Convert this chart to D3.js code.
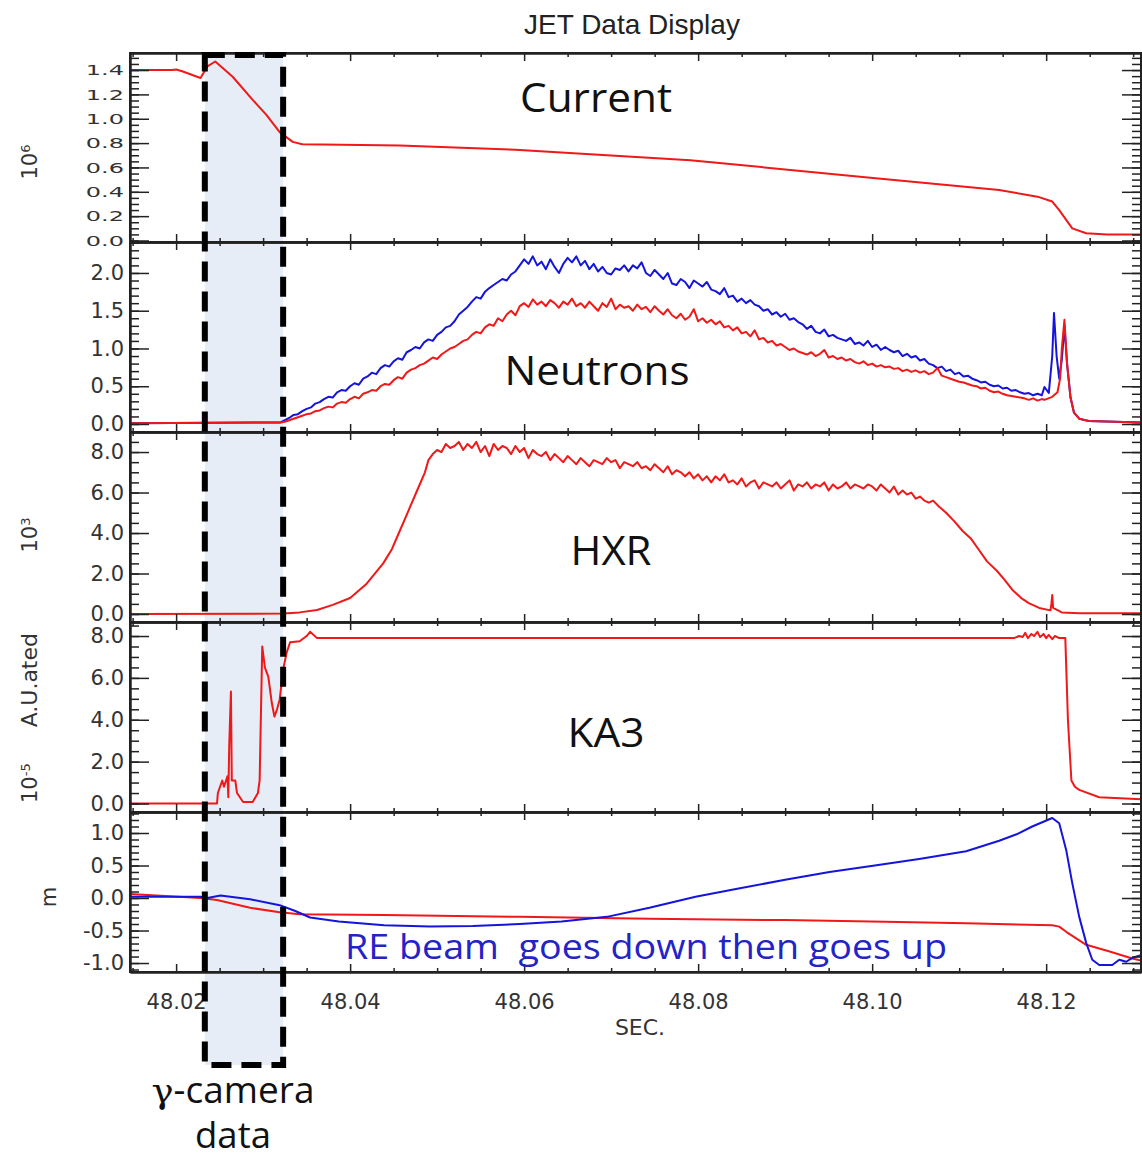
<!DOCTYPE html>
<html>
<head>
<meta charset="utf-8">
<script src="https://cdn.jsdelivr.net/npm/d3@7"></script>
<style>
body { margin: 0; background: #fff; }
svg { display: block; }
</style>
</head>
<body>
<div id="chart"></div>
<script>
// time axis, seconds
var xDomain = [48.0147, 48.1309];
var xMajorTicks = [48.02, 48.04, 48.06, 48.08, 48.10, 48.12];

// plasma current, 10^6 A, [t, value]
var currentData = [[48.0147,1.40],[48.0195,1.40],[48.0200,1.405],[48.0207,1.39],[48.0228,1.335],[48.0236,1.43],[48.0245,1.47],
  [48.0265,1.345],[48.0288,1.155],[48.0304,1.03],[48.0319,0.89],[48.0334,0.81],[48.0345,0.79],[48.0457,0.78],[48.0590,0.745],
  [48.0791,0.66],[48.0992,0.52],[48.1146,0.415],[48.1190,0.36],[48.1207,0.32],[48.1215,0.25],[48.1223,0.17],[48.1230,0.10],
  [48.1246,0.06],[48.1270,0.05],[48.1309,0.05]];

// neutron rates, sampled every 0.5 ms from 48.032 s, then the two end spikes as [t, value]
var neutronT0 = 48.032, neutronDt = 0.0005;
var neutronBlueSamples = [
  0.02,0.05,0.08,0.12,0.13,0.17,0.20,0.22,0.27,0.29, 0.33,0.36,0.35,0.42,0.45,0.44,0.50,0.54,0.52,0.60,
  0.63,0.68,0.66,0.74,0.78,0.76,0.83,0.87,0.85,0.95, 0.98,1.02,1.00,1.08,1.12,1.10,1.18,1.22,1.28,1.30,
  1.36,1.45,1.50,1.55,1.62,1.68,1.66,1.75,1.80,1.84, 1.88,1.92,1.90,1.98,2.02,2.10,2.18,2.12,2.22,2.10,
  2.15,2.05,2.18,2.08,2.00,2.12,2.20,2.14,2.22,2.10, 2.16,2.05,2.12,2.02,2.08,2.00,1.98,2.06,2.04,2.10,
  2.02,2.10,2.06,2.14,2.00,1.96,2.04,1.98,1.92,2.00, 1.86,1.84,1.92,1.88,1.80,1.90,1.86,1.82,1.88,1.78,
  1.76,1.72,1.80,1.68,1.70,1.62,1.66,1.60,1.64,1.58, 1.56,1.50,1.52,1.45,1.48,1.42,1.46,1.38,1.40,1.35,
  1.32,1.26,1.30,1.22,1.20,1.25,1.16,1.18,1.14,1.12, 1.10,1.14,1.06,1.08,1.04,1.10,1.02,1.05,0.98,1.02,
  0.98,0.95,0.97,0.90,0.93,0.88,0.90,0.84,0.86,0.80, 0.78,0.74,0.76,0.70,0.72,0.66,0.68,0.63,0.64,0.60,
  0.58,0.55,0.56,0.52,0.50,0.51,0.47,0.48,0.44,0.45, 0.42,0.40,0.41,0.38,0.40,0.38];
var neutronRedSamples = [
  0.02,0.03,0.05,0.07,0.09,0.11,0.13,0.14,0.17,0.18, 0.21,0.23,0.22,0.27,0.29,0.28,0.33,0.36,0.34,0.40,
  0.42,0.45,0.44,0.50,0.53,0.52,0.58,0.62,0.60,0.68, 0.72,0.74,0.78,0.80,0.84,0.88,0.86,0.92,0.96,1.00,
  1.02,1.06,1.10,1.12,1.18,1.22,1.20,1.28,1.32,1.30, 1.40,1.36,1.45,1.50,1.44,1.56,1.60,1.55,1.65,1.58,
  1.62,1.56,1.64,1.60,1.54,1.62,1.58,1.66,1.56,1.60, 1.54,1.62,1.56,1.50,1.60,1.55,1.66,1.52,1.58,1.54,
  1.56,1.50,1.58,1.52,1.55,1.48,1.56,1.50,1.45,1.52, 1.44,1.40,1.46,1.38,1.42,1.52,1.36,1.40,1.34,1.38,
  1.32,1.36,1.28,1.30,1.24,1.28,1.20,1.22,1.16,1.24, 1.12,1.14,1.08,1.10,1.04,1.06,1.02,0.98,1.00,0.96,
  0.94,0.92,0.95,0.90,0.93,0.98,0.88,0.90,0.86,0.88, 0.84,0.86,0.82,0.80,0.83,0.78,0.80,0.76,0.78,0.75,
  0.76,0.73,0.74,0.70,0.72,0.69,0.71,0.68,0.70,0.66, 0.68,0.74,0.64,0.62,0.60,0.58,0.56,0.55,0.53,0.51,
  0.50,0.47,0.48,0.44,0.42,0.43,0.40,0.38,0.37,0.36, 0.35,0.34,0.32,0.34,0.31,0.33];
var neutronBlueTail = [[48.1198,0.49],[48.1203,0.41],[48.1207,0.90],[48.1209,1.47],[48.1212,0.90],[48.1215,0.60],[48.1218,0.85],
  [48.1221,1.30],[48.1224,0.80],[48.1228,0.35],[48.1232,0.15],[48.1238,0.07],[48.1249,0.04],[48.1309,0.02]];
var neutronRedTail = [[48.1198,0.32],[48.1207,0.36],[48.1213,0.42],[48.1216,0.60],[48.1218,1.00],[48.1221,1.38],[48.1224,0.80],
  [48.1228,0.35],[48.1232,0.15],[48.1238,0.07],[48.1249,0.04],[48.1309,0.02]];

// hard X-ray, 10^3: rise [t, value], plateau sampled every 0.5 ms from 48.049 s, then the fall
var hxrRise = [[48.0147,0.0],[48.0323,0.02],[48.0342,0.08],[48.0362,0.2],[48.0380,0.45],[48.0400,0.79],[48.0419,1.5],
  [48.0438,2.5],[48.0448,3.2],[48.0457,4.1],[48.0466,5.0],[48.0477,6.1],[48.0486,7.0]];
var hxrT0 = 48.049, hxrDt = 0.0005;
var hxrSamples = [
  7.6,7.9,8.1,8.0,8.4,8.2,8.3,8.5,8.1,8.4, 8.2,8.5,8.0,8.3,7.8,8.4,8.1,8.3,8.2,7.9,
  8.3,8.0,8.2,7.7,8.1,7.9,7.8,8.0,7.6,7.9, 7.7,7.5,7.8,7.6,7.4,7.7,7.5,7.3,7.6,7.5,
  7.4,7.7,7.5,7.6,7.2,7.5,7.4,7.3,7.5,7.2, 7.3,7.1,7.4,7.2,7.0,7.3,6.9,7.1,7.0,6.8,
  7.0,6.7,6.9,6.6,6.8,6.5,6.8,6.6,6.9,6.5, 6.6,6.4,6.7,6.3,6.5,6.6,6.2,6.5,6.4,6.3,
  6.5,6.2,6.4,6.6,6.1,6.4,6.3,6.5,6.2,6.4, 6.3,6.5,6.1,6.4,6.2,6.3,6.5,6.2,6.4,6.3,
  6.2,6.4,6.3,6.1,6.4,6.2,6.0,6.3,5.9,6.1, 5.9,6.0,5.7,5.8,5.6,5.5,5.6];
var hxrFall = [[48.1077,5.3],[48.1085,5.0],[48.1094,4.6],[48.1104,4.1],[48.1114,3.7],[48.1123,3.15],[48.1132,2.6],
  [48.1143,2.15],[48.1152,1.7],[48.1161,1.2],[48.1171,0.8],[48.1180,0.54],[48.1192,0.3],[48.1205,0.18],[48.1206,0.5],
  [48.1207,0.94],[48.1208,0.3],[48.1218,0.08],[48.1238,0.04],[48.1309,0.04]];

// KA3, 10^-5 A.U., [t, value]
var ka3Data = [[48.0147,0.0],[48.0247,0.0],[48.0248,0.5],[48.0253,1.1],[48.0255,0.8],[48.0259,1.3],[48.0260,0.3],
  [48.0261,2.7],[48.0263,5.35],[48.0264,1.1],[48.0268,1.1],[48.0270,0.5],[48.0277,0.07],[48.0288,0.07],[48.0294,0.5],
  [48.0296,1.1],[48.0299,7.5],[48.0302,6.5],[48.0306,6.05],[48.0310,4.8],[48.0313,4.15],[48.0316,4.5],[48.0319,4.95],
  [48.0323,6.4],[48.0327,7.2],[48.0331,7.7],[48.0342,7.75],[48.0350,8.0],[48.0354,8.2],[48.0362,7.9],[48.1163,7.9],
  [48.1169,8.0],[48.1173,7.95],[48.1176,8.15],[48.1179,7.9],[48.1183,8.1],[48.1186,8.0],[48.1190,8.2],[48.1193,7.95],
  [48.1197,8.1],[48.1200,7.9],[48.1203,8.05],[48.1207,7.85],[48.1210,8.0],[48.1215,7.9],[48.1222,7.9],[48.1225,4.0],
  [48.1229,1.1],[48.1233,0.8],[48.1238,0.65],[48.1261,0.3],[48.1309,0.2]];

// vertical position, m, [t, value]
var posRed = [[48.0147,0.06],[48.0228,0.0],[48.0247,-0.03],[48.0285,-0.15],[48.0319,-0.22],[48.0342,-0.25],[48.0439,-0.26],
  [48.0595,-0.29],[48.0744,-0.32],[48.0900,-0.34],[48.1031,-0.37],[48.1108,-0.39],[48.1207,-0.42],[48.1215,-0.44],
  [48.1223,-0.52],[48.1246,-0.72],[48.1272,-0.82],[48.1299,-0.93],[48.1309,-0.96]];
var posBlue = [[48.0147,0.02],[48.0228,0.02],[48.0236,0.0],[48.0251,0.04],[48.0285,-0.02],[48.0319,-0.11],[48.0337,-0.20],
  [48.0354,-0.30],[48.0387,-0.36],[48.0439,-0.42],[48.0492,-0.44],[48.0541,-0.43],[48.0595,-0.40],[48.0643,-0.36],
  [48.0695,-0.29],[48.0744,-0.15],[48.0797,0.02],[48.0848,0.15],[48.0900,0.28],[48.0951,0.40],[48.1003,0.50],
  [48.1054,0.60],[48.1108,0.72],[48.1146,0.88],[48.1166,0.98],[48.1184,1.10],[48.1207,1.23],[48.1215,1.15],
  [48.1223,0.74],[48.1230,0.23],[48.1238,-0.29],[48.1246,-0.69],[48.1253,-0.95],[48.1261,-1.03],[48.1276,-1.03],
  [48.1284,-0.95],[48.1292,-0.98],[48.1299,-0.92],[48.1309,-0.88]];

var panelNames = ["Current", "Neutrons", "HXR", "KA3"];
var cameraWindow = [48.0233, 48.0323];

var RED = "#f01818", BLUE = "#1414dc", INK = "#222";

function sampled(t0, dt, vals) {
  return vals.map(function(v, i) { return [t0 + i * dt, v]; });
}

var width = 1142, height = 1158;
var svg = d3.select("#chart").append("svg").attr("width", width).attr("height", height);

var x = d3.scaleLinear().domain(xDomain).range([130, 1141]);

var panels = [
  { top: 53, bottom: 242, domain: [-0.0123, 1.54], major: [0,0.2,0.4,0.6,0.8,1.0,1.2,1.4], minor: 0.05, squash: 0.62, fs: 24,
    series: [{ data: currentData, color: RED }] },
  { top: 242, bottom: 432, domain: [-0.106, 2.41], major: [0,0.5,1.0,1.5,2.0], minor: 0.1, squash: 1, fs: 21,
    series: [{ data: [[48.0147,0.01]].concat(sampled(neutronT0, neutronDt, neutronBlueSamples), neutronBlueTail), color: BLUE },
             { data: [[48.0147,0.01]].concat(sampled(neutronT0, neutronDt, neutronRedSamples), neutronRedTail), color: RED }] },
  { top: 432, bottom: 622, domain: [-0.395, 8.99], major: [0,2,4,6,8], minor: 0.5, squash: 1, fs: 21,
    series: [{ data: hxrRise.concat(sampled(hxrT0, hxrDt, hxrSamples), hxrFall), color: RED }] },
  { top: 622, bottom: 812, domain: [-0.406, 8.67], major: [0,2,4,6,8], minor: 0.5, squash: 1, fs: 21,
    series: [{ data: ka3Data, color: RED }] },
  { top: 812, bottom: 972, domain: [-1.138, 1.323], major: [-1.0,-0.5,0,0.5,1.0], minor: 0.1, squash: 1, fs: 21,
    series: [{ data: posRed, color: RED }, { data: posBlue, color: BLUE }] }
];

// gamma-camera window shading (behind everything)
svg.append("rect")
  .attr("x", x(cameraWindow[0])).attr("y", 55)
  .attr("width", x(cameraWindow[1]) - x(cameraWindow[0])).attr("height", 1010)
  .attr("fill", "#e6edf7");

var xMinor = d3.range(48.015, 48.131, 0.005).filter(function(t) {
  return xMajorTicks.every(function(m) { return Math.abs(m - t) > 1e-6; });
});

panels.forEach(function(p, k) {
  var y = d3.scaleLinear().domain(p.domain).range([p.bottom, p.top]);
  var g = svg.append("g");

  g.append("clipPath").attr("id", "clip" + k).append("rect")
    .attr("x", 130).attr("y", p.top).attr("width", 1011).attr("height", p.bottom - p.top);

  var line = d3.line().x(function(d) { return x(d[0]); }).y(function(d) { return y(d[1]); });
  p.series.forEach(function(s) {
    g.append("path").datum(s.data).attr("clip-path", "url(#clip" + k + ")")
      .attr("fill", "none").attr("stroke", s.color).attr("stroke-width", 2)
      .attr("stroke-linejoin", "round").attr("d", line);
  });

  var yMinor = d3.range(Math.ceil(p.domain[0] / p.minor) * p.minor, p.domain[1], p.minor);

  // left axis: inward ticks
  var left = g.append("g").attr("transform", "translate(130,0)");
  left.append("g").call(d3.axisLeft(y).tickValues(yMinor).tickSizeInner(-9).tickSizeOuter(0).tickFormat(""));
  left.append("g").call(d3.axisLeft(y).tickValues(p.major).tickSizeInner(-19).tickSizeOuter(0).tickPadding(6)
    .tickFormat(function(d) { return d.toFixed(1); }));
  left.selectAll("text").attr("font-family", "DejaVu Sans").attr("font-size", p.fs).attr("fill", "#333")
    .attr("transform", "scale(1," + p.squash + ")");

  // right axis (mirrored)
  var right = g.append("g").attr("transform", "translate(1141,0)");
  right.append("g").call(d3.axisRight(y).tickValues(yMinor).tickSizeInner(-9).tickSizeOuter(0).tickFormat(""));
  right.append("g").call(d3.axisRight(y).tickValues(p.major).tickSizeInner(-19).tickSizeOuter(0).tickFormat(""));

  // top and bottom time axes
  var top = g.append("g").attr("transform", "translate(0," + p.top + ")");
  top.append("g").call(d3.axisTop(x).tickValues(xMinor).tickSizeInner(-4).tickSizeOuter(0).tickFormat(""));
  top.append("g").call(d3.axisTop(x).tickValues(xMajorTicks).tickSizeInner(-8).tickSizeOuter(0).tickFormat(""));
  var bot = g.append("g").attr("transform", "translate(0," + p.bottom + ")");
  bot.append("g").call(d3.axisBottom(x).tickValues(xMinor).tickSizeInner(-4).tickSizeOuter(0).tickFormat(""));
  var botMajor = d3.axisBottom(x).tickValues(xMajorTicks).tickSizeInner(-8).tickSizeOuter(0);
  if (k === panels.length - 1) botMajor.tickPadding(22).tickFormat(d3.format(".2f"));
  else botMajor.tickFormat("");
  bot.append("g").call(botMajor);
  bot.selectAll("text").attr("font-family", "DejaVu Sans").attr("font-size", 21).attr("fill", "#333");

  g.selectAll(".domain").attr("stroke", INK).attr("stroke-width", 2);
  g.selectAll(".tick line").attr("stroke", INK).attr("stroke-width", 1.5);

  g.append("rect").attr("x", 130).attr("y", p.top).attr("width", 1011).attr("height", p.bottom - p.top)
    .attr("fill", "none").attr("stroke", INK).attr("stroke-width", 2);
});

// y-axis unit labels
function rotLabel(tx, ty, anchor, parts, size) {
  var t = svg.append("text").attr("transform", "translate(" + tx + "," + ty + ") rotate(-90)")
    .attr("text-anchor", anchor).attr("font-family", "DejaVu Sans").attr("font-size", size).attr("fill", "#333");
  parts.forEach(function(pt) {
    var s = t.append("tspan").text(pt[0]);
    if (pt[1]) s.attr("baseline-shift", "super").attr("font-size", size * 0.62);
  });
}
rotLabel(37, 162, "middle", [["10"], ["6", true]], 21);
rotLabel(37, 535, "middle", [["10"], ["3", true]], 21);
rotLabel(37, 803, "start", [["10"], ["-5", true]], 21);
rotLabel(37, 633, "end", [["A.U.ated"]], 22);
rotLabel(56, 897, "middle", [["m"]], 21);

// title and axis title
svg.append("text").attr("x", 632).attr("y", 34).attr("text-anchor", "middle")
  .attr("font-family", "Liberation Sans").attr("font-size", 28).attr("fill", "#222").text("JET Data Display");
svg.append("text").attr("x", 640).attr("y", 1035).attr("text-anchor", "middle")
  .attr("font-family", "DejaVu Sans").attr("font-size", 22).attr("fill", "#333").text("SEC.");

// panel annotations
var namePos = [[596, 112, 152], [597, 385, 185], [611, 565, 81], [606, 747, 77]];
panelNames.forEach(function(n, i) {
  svg.append("text").attr("x", namePos[i][0]).attr("y", namePos[i][1]).attr("text-anchor", "middle")
    .attr("font-family", "Open Sans").attr("font-size", 40).attr("fill", "#111")
    .attr("textLength", namePos[i][2]).attr("lengthAdjust", "spacingAndGlyphs").text(n);
});
svg.append("text").attr("x", 345).attr("y", 959)
  .attr("font-family", "Open Sans").attr("font-size", 34).attr("fill", "#2323c8")
  .attr("textLength", 602).attr("lengthAdjust", "spacingAndGlyphs").attr("xml:space", "preserve")
  .text("RE beam  goes down then goes up");

// gamma-camera window outline
svg.append("rect")
  .attr("x", x(cameraWindow[0])).attr("y", 55)
  .attr("width", x(cameraWindow[1]) - x(cameraWindow[0])).attr("height", 1010)
  .attr("fill", "none").attr("stroke", "#000").attr("stroke-width", 6).attr("stroke-dasharray", "20,10");

var cam = svg.append("text").attr("x", 233).attr("y", 1103).attr("text-anchor", "middle")
  .attr("font-family", "Open Sans").attr("font-size", 36).attr("fill", "#111")
  .attr("textLength", 163).attr("lengthAdjust", "spacingAndGlyphs");
cam.append("tspan").attr("font-family", "DejaVu Serif").text("γ");
cam.append("tspan").text("-camera");
svg.append("text").attr("x", 233).attr("y", 1148).attr("text-anchor", "middle")
  .attr("font-family", "Open Sans").attr("font-size", 36).attr("fill", "#111")
  .attr("textLength", 76).attr("lengthAdjust", "spacingAndGlyphs").text("data");
</script>
</body>
</html>
